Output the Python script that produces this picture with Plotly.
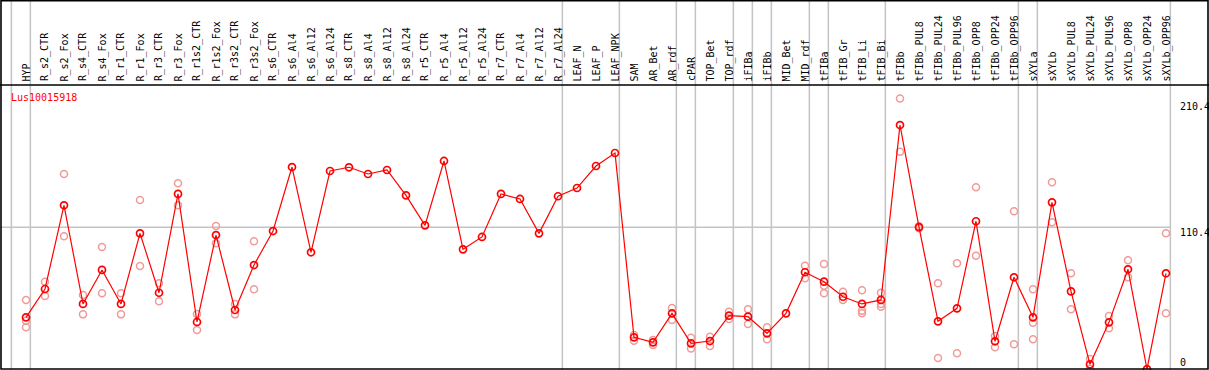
import plotly.graph_objects as go

categories = ["HYP", "R_s2_CTR", "R_s2_Fox", "R_s4_CTR", "R_s4_Fox", "R_r1_CTR", "R_r1_Fox",
              "R_r3_CTR", "R_r3_Fox", "R_r1s2_CTR", "R_r1s2_Fox", "R_r3s2_CTR", "R_r3s2_Fox",
              "R_s6_CTR", "R_s6_Al4", "R_s6_Al12", "R_s6_Al24", "R_s8_CTR", "R_s8_Al4", "R_s8_Al12",
              "R_s8_Al24", "R_r5_CTR", "R_r5_Al4", "R_r5_Al12", "R_r5_Al24", "R_r7_CTR", "R_r7_Al4",
              "R_r7_Al12", "R_r7_Al24", "LEAF_N", "LEAF_P", "LEAF_NPK", "SAM", "AR_Bet", "AR_rdf",
              "cPAR", "TOP_Bet", "TOP_rdf", "iFIBa", "iFIBb", "MID_Bet", "MID_rdf", "tFIBa",
              "tFIB_Gr", "tFIB_Li", "tFIB_Bi", "tFIBb", "tFIBb_PUL8", "tFIBb_PUL24", "tFIBb_PUL96",
              "tFIBb_OPP8", "tFIBb_OPP24", "tFIBb_OPP96", "sXYLa", "sXYLb", "sXYLb_PUL8",
              "sXYLb_PUL24", "sXYLb_PUL96", "sXYLb_OPP8", "sXYLb_OPP24", "sXYLb_OPP96"]

mean_values = [40.5, 62.5, 127.5, 50.9, 77.3, 50.9, 105.7, 59.6, 136.3, 36.9, 104.4, 46.2, 81.1,
               107.5, 157.2, 91.0, 154.1, 157.0, 151.8, 154.9, 135.2, 111.9, 161.9, 93.3, 102.9,
               136.3, 132.4, 105.7, 134.5, 140.9, 158.0, 168.1, 25.0, 21.1, 43.6, 20.3, 22.1,
               41.8, 41.0, 28.1, 43.6, 75.5, 68.2, 56.5, 50.9, 54.0, 189.8, 110.6, 37.4, 47.5,
               115.1, 21.9, 71.6, 40.5, 129.8, 60.7, 4.0, 36.6, 77.8, 0.2, 74.7]

rep1 = [54.0, 68.2, 151.8, 57.8, 95.1, 59.2, 131.6, 66.9, 144.6, 43.1, 111.4, 50.9, 99.5,
        None, None, None, None, None, None, None, None, None, None, None, None, None, None,
        None, None, None, None, None, 26.8, 22.9, 47.7, 24.7, 25.5, 44.9, 46.7, 32.8, None,
        80.6, 81.9, 60.4, 61.5, 59.6, 210.4, 111.2, 66.9, 82.5, 141.5, 26.0, 122.8, 62.3,
        145.3, 74.7, 8.2, 41.5, 84.8, 0.3, 105.7]
rep2 = [37.9, 57.1, 103.4, 42.8, 59.2, 42.8, 80.4, 52.9, 127.5, 30.7, 98.0, 42.8, 62.3,
        None, None, None, None, None, None, None, None, None, None, None, None, None, None,
        None, None, None, None, None, 22.4, 19.0, 38.4, 16.4, 18.2, 39.2, 35.3, 23.4, None,
        70.8, 65.1, 54.0, 45.7, 50.9, 169.1, 109.6, 8.9, 12.6, 88.4, 17.2, 19.6, 36.3,
        114.3, 46.7, 0.6, 32.0, 71.6, 0.1, 43.6]
rep3 = [32.8, None, None, None, None, None, None, None, None, None, None, None, None,
        None, None, None, None, None, None, None, None, None, None, None, None, None, None,
        None, None, None, None, None, None, None, None, None, None, None, None, None, None,
        None, 59.2, None, 43.6, 48.8, None, None, None, None, None, None, None, 23.4,
        None, None, None, None, None, None, None]

separator_after = [-1, 0, 28, 31, 34, 35, 37, 38, 39, 41, 42, 45, 52, 53, 60]
grid_value = 110.4
axis_labels = ["210.4", "110.4", "0"]
title_text = "Lus10015918"

W, H = 1209, 370
X0, DX = 26.0, 19.0          # pixel of first category, pixel step
Y0, KY = 369.5, 1.288         # pixel of value 0, pixels per unit

def px_to_x(p):
    return (p - X0) / DX

def py_to_paper(p):
    return 1 - p / H

xr = [px_to_x(0), px_to_x(W)]
yr = [(Y0 - H) / KY, Y0 / KY]

xs = list(range(len(categories)))
rx, ry = [], []
for reps in (rep1, rep2, rep3):
    for i, v in enumerate(reps):
        if v is not None:
            rx.append(i)
            ry.append(v)

fig = go.Figure()
fig.add_trace(go.Scatter(x=rx, y=ry, mode="markers", hoverinfo="skip",
                         marker=dict(symbol="circle-open", size=7, color="#f09a9a",
                                     line=dict(width=1.5, color="#f09a9a"))))
fig.add_trace(go.Scatter(x=xs, y=mean_values, mode="lines+markers",
                         line=dict(color="#ff0000", width=1.2),
                         marker=dict(symbol="circle-open", size=7, color="#ff0000",
                                     line=dict(width=1.7, color="#ff0000"))))

shapes = []
for i in separator_after:
    xv = i + 0.23
    shapes.append(dict(type="line", xref="x", yref="paper", x0=xv, x1=xv, y0=0, y1=1,
                       line=dict(color="#c4c4c4", width=1.5), layer="below"))
shapes.append(dict(type="line", xref="x", yref="y", x0=px_to_x(0), x1=60.23,
                   y0=grid_value, y1=grid_value, line=dict(color="#c4c4c4", width=1.5),
                   layer="below"))
# frame and header divider
shapes.append(dict(type="rect", xref="paper", yref="paper", x0=1 / W, x1=1 - 1 / W,
                   y0=py_to_paper(369), y1=py_to_paper(0.7),
                   line=dict(color="black", width=1.6), layer="above"))
shapes.append(dict(type="line", xref="paper", yref="paper", x0=0, x1=1,
                   y0=py_to_paper(85), y1=py_to_paper(85),
                   line=dict(color="black", width=1.6), layer="above"))

annotations = []
mono = "DejaVu Sans Mono"
for i, c in enumerate(categories):
    annotations.append(dict(x=i, y=py_to_paper(83.5), xref="x", yref="paper", text=c,
                            textangle=-90, showarrow=False, xanchor="center", yanchor="bottom",
                            font=dict(family=mono, size=10, color="black")))
annotations.append(dict(x=9 / W, y=py_to_paper(97), xref="paper", yref="paper",
                        text=title_text, showarrow=False, xanchor="left", yanchor="middle",
                        font=dict(family=mono, size=10, color="#ff0000")))
label_py = [107, 232.5, 362.5]
for t, p in zip(axis_labels, label_py):
    annotations.append(dict(x=1177.5 / W, y=py_to_paper(p), xref="paper", yref="paper", text=t,
                            showarrow=False, xanchor="left", yanchor="middle",
                            font=dict(family=mono, size=10, color="black")))

fig.update_layout(width=W, height=H, margin=dict(l=0, r=0, t=0, b=0, pad=0),
                  paper_bgcolor="white", plot_bgcolor="white", showlegend=False,
                  hovermode=False,
                  xaxis=dict(range=xr, visible=False, fixedrange=True),
                  yaxis=dict(range=yr, visible=False, fixedrange=True),
                  shapes=shapes, annotations=annotations)
fig.write_html("out.html", config={"displayModeBar": False, "staticPlot": True},
               post_script="document.body.style.margin='0';document.body.style.overflow='hidden';")
